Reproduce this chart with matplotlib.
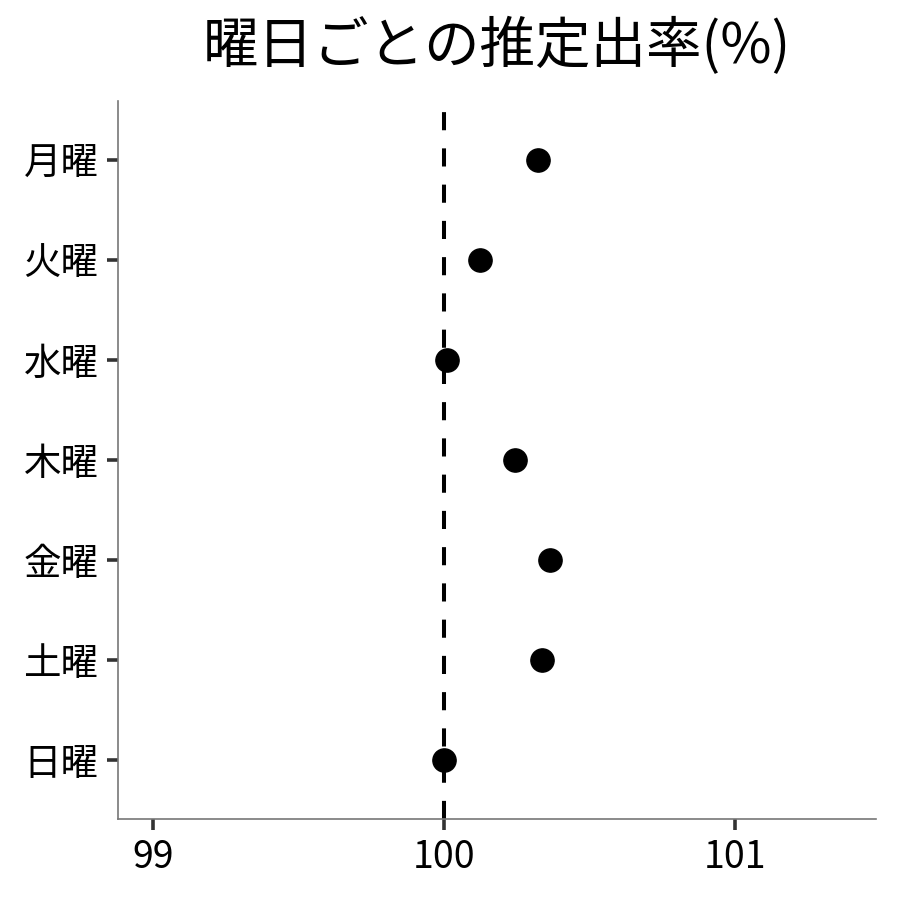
import matplotlib
matplotlib.use("Agg")
import matplotlib.pyplot as plt

plt.rcParams['font.family'] = ['Noto Sans CJK JP', 'DejaVu Sans']

# data
days = ["月曜", "火曜", "水曜", "木曜", "金曜", "土曜", "日曜"]
rates = [100.323, 100.124, 100.010, 100.244, 100.364, 100.337, 100.000]
xticks = [99, 100, 101]

fig, ax = plt.subplots(figsize=(9, 9), dpi=100)
fig.subplots_adjust(left=0.131, right=0.973, top=0.888, bottom=0.09)

ypos = list(range(len(days)))[::-1]
ax.axvline(100, color="black", lw=2.9, ls=(0, (4.5, 4.5)), zorder=1)
ax.scatter(rates, ypos, s=280, color="black", zorder=3)

ax.set_xlim(98.88, 101.485)
ax.set_ylim(-0.59, len(days) - 1 + 0.59)
ax.set_xticks(xticks)
ax.set_xticklabels([str(v) for v in xticks])
ax.set_yticks(ypos)
ax.set_yticklabels(days)

for s in ["top", "right"]:
    ax.spines[s].set_visible(False)
for s in ["left", "bottom"]:
    ax.spines[s].set_color("#777777")
    ax.spines[s].set_linewidth(1.2)

ax.tick_params(axis="both", length=8, width=2.6, color="#333333",
               labelsize=27, labelcolor="black", pad=6)

ax.set_title("曜日ごとの推定出率(%)", fontsize=40, pad=27)

plt.savefig("out.png")
